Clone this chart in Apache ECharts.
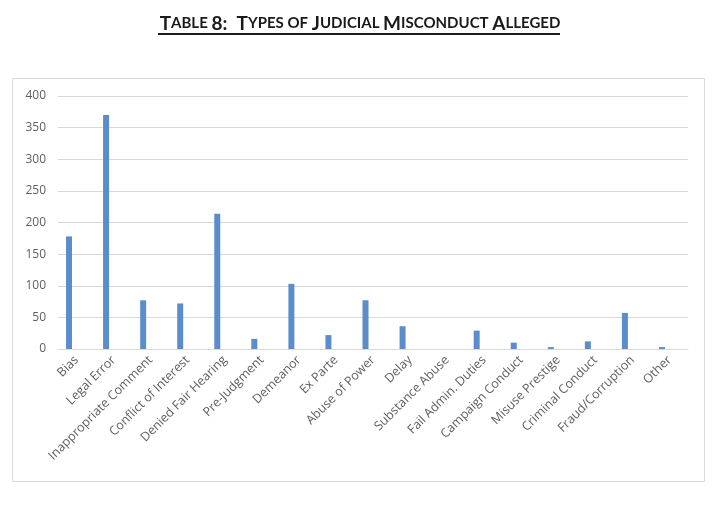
<!DOCTYPE html>
<html>
<head>
<meta charset="utf-8">
<script src="https://cdn.jsdelivr.net/npm/echarts@6/dist/echarts.min.js"></script>
<style>html,body{margin:0;padding:0;background:#fff}#c{width:720px;height:509px}</style>
</head>
<body>
<div id="c"></div>
<script>
var categories = ["Bias","Legal Error","Inappropriate Comment","Conflict of Interest","Denied Fair Hearing","Pre-Judgment","Demeanor","Ex Parte","Abuse of Power","Delay","Substance Abuse","Fail Admin. Duties","Campaign Conduct","Misuse Prestige","Criminal Conduct","Fraud/Corruption","Other"];
var allegations = [178, 370, 77, 72, 214, 16, 103, 22, 77, 36, 0, 29, 10, 3, 12, 57, 3];
var yTicks = [0, 50, 100, 150, 200, 250, 300, 350, 400];

var chart = echarts.init(document.getElementById('c'), null, {renderer: 'canvas'});
var lab = '#5f5f5f';
chart.setOption({
  animation: false,
  backgroundColor: '#ffffff',
  title: {
    text: '{b|T}{s|ABLE }{b|8:  T}{s|YPES OF }{b|J}{s|UDICIAL }{b|M}{s|ISCONDUCT }{b|A}{s|LLEGED}',
    left: 'center',
    top: 9,
    textStyle: {
      rich: {
        b: {fontFamily: 'Lato', fontWeight: 'bold', fontSize: 19, color: '#1a1a1a'},
        s: {fontFamily: 'Lato', fontWeight: 'bold', fontSize: 15, color: '#1a1a1a'}
      }
    }
  },
  graphic: [
    {type: 'line', shape: {x1: 158, y1: 34, x2: 560, y2: 34}, style: {stroke: '#1a1a1a', lineWidth: 2}},
    {type: 'rect', shape: {x: 12.5, y: 78.5, width: 692, height: 403}, style: {fill: 'none', stroke: '#d9d9d9', lineWidth: 1}, z: -1}
  ],
  grid: {left: 58, right: 32, top: 96, bottom: 160},
  xAxis: {
    type: 'category',
    data: categories,
    axisLine: {lineStyle: {color: '#d9d9d9'}},
    axisTick: {show: false},
    axisLabel: {rotate: 45, interval: 0, color: lab, fontFamily: 'Open Sans', fontSize: 12.5, margin: 9}
  },
  yAxis: {
    type: 'value',
    min: 0, max: 400, interval: 50,
    axisLine: {show: false},
    axisTick: {show: false},
    splitLine: {lineStyle: {color: '#d9d9d9'}},
    axisLabel: {color: lab, fontFamily: 'Open Sans', fontSize: 12, margin: 12,
      formatter: function (v) { return yTicks.indexOf(v) >= 0 ? String(v) : ''; }}
  },
  series: [
    {type: 'bar', name: 'Allegations', data: allegations, barWidth: 6, barGap: '150%', itemStyle: {color: '#5B8DCB'}},
    {type: 'bar', name: 'blank', data: [], barWidth: 6}
  ]
});
</script>
</body>
</html>
